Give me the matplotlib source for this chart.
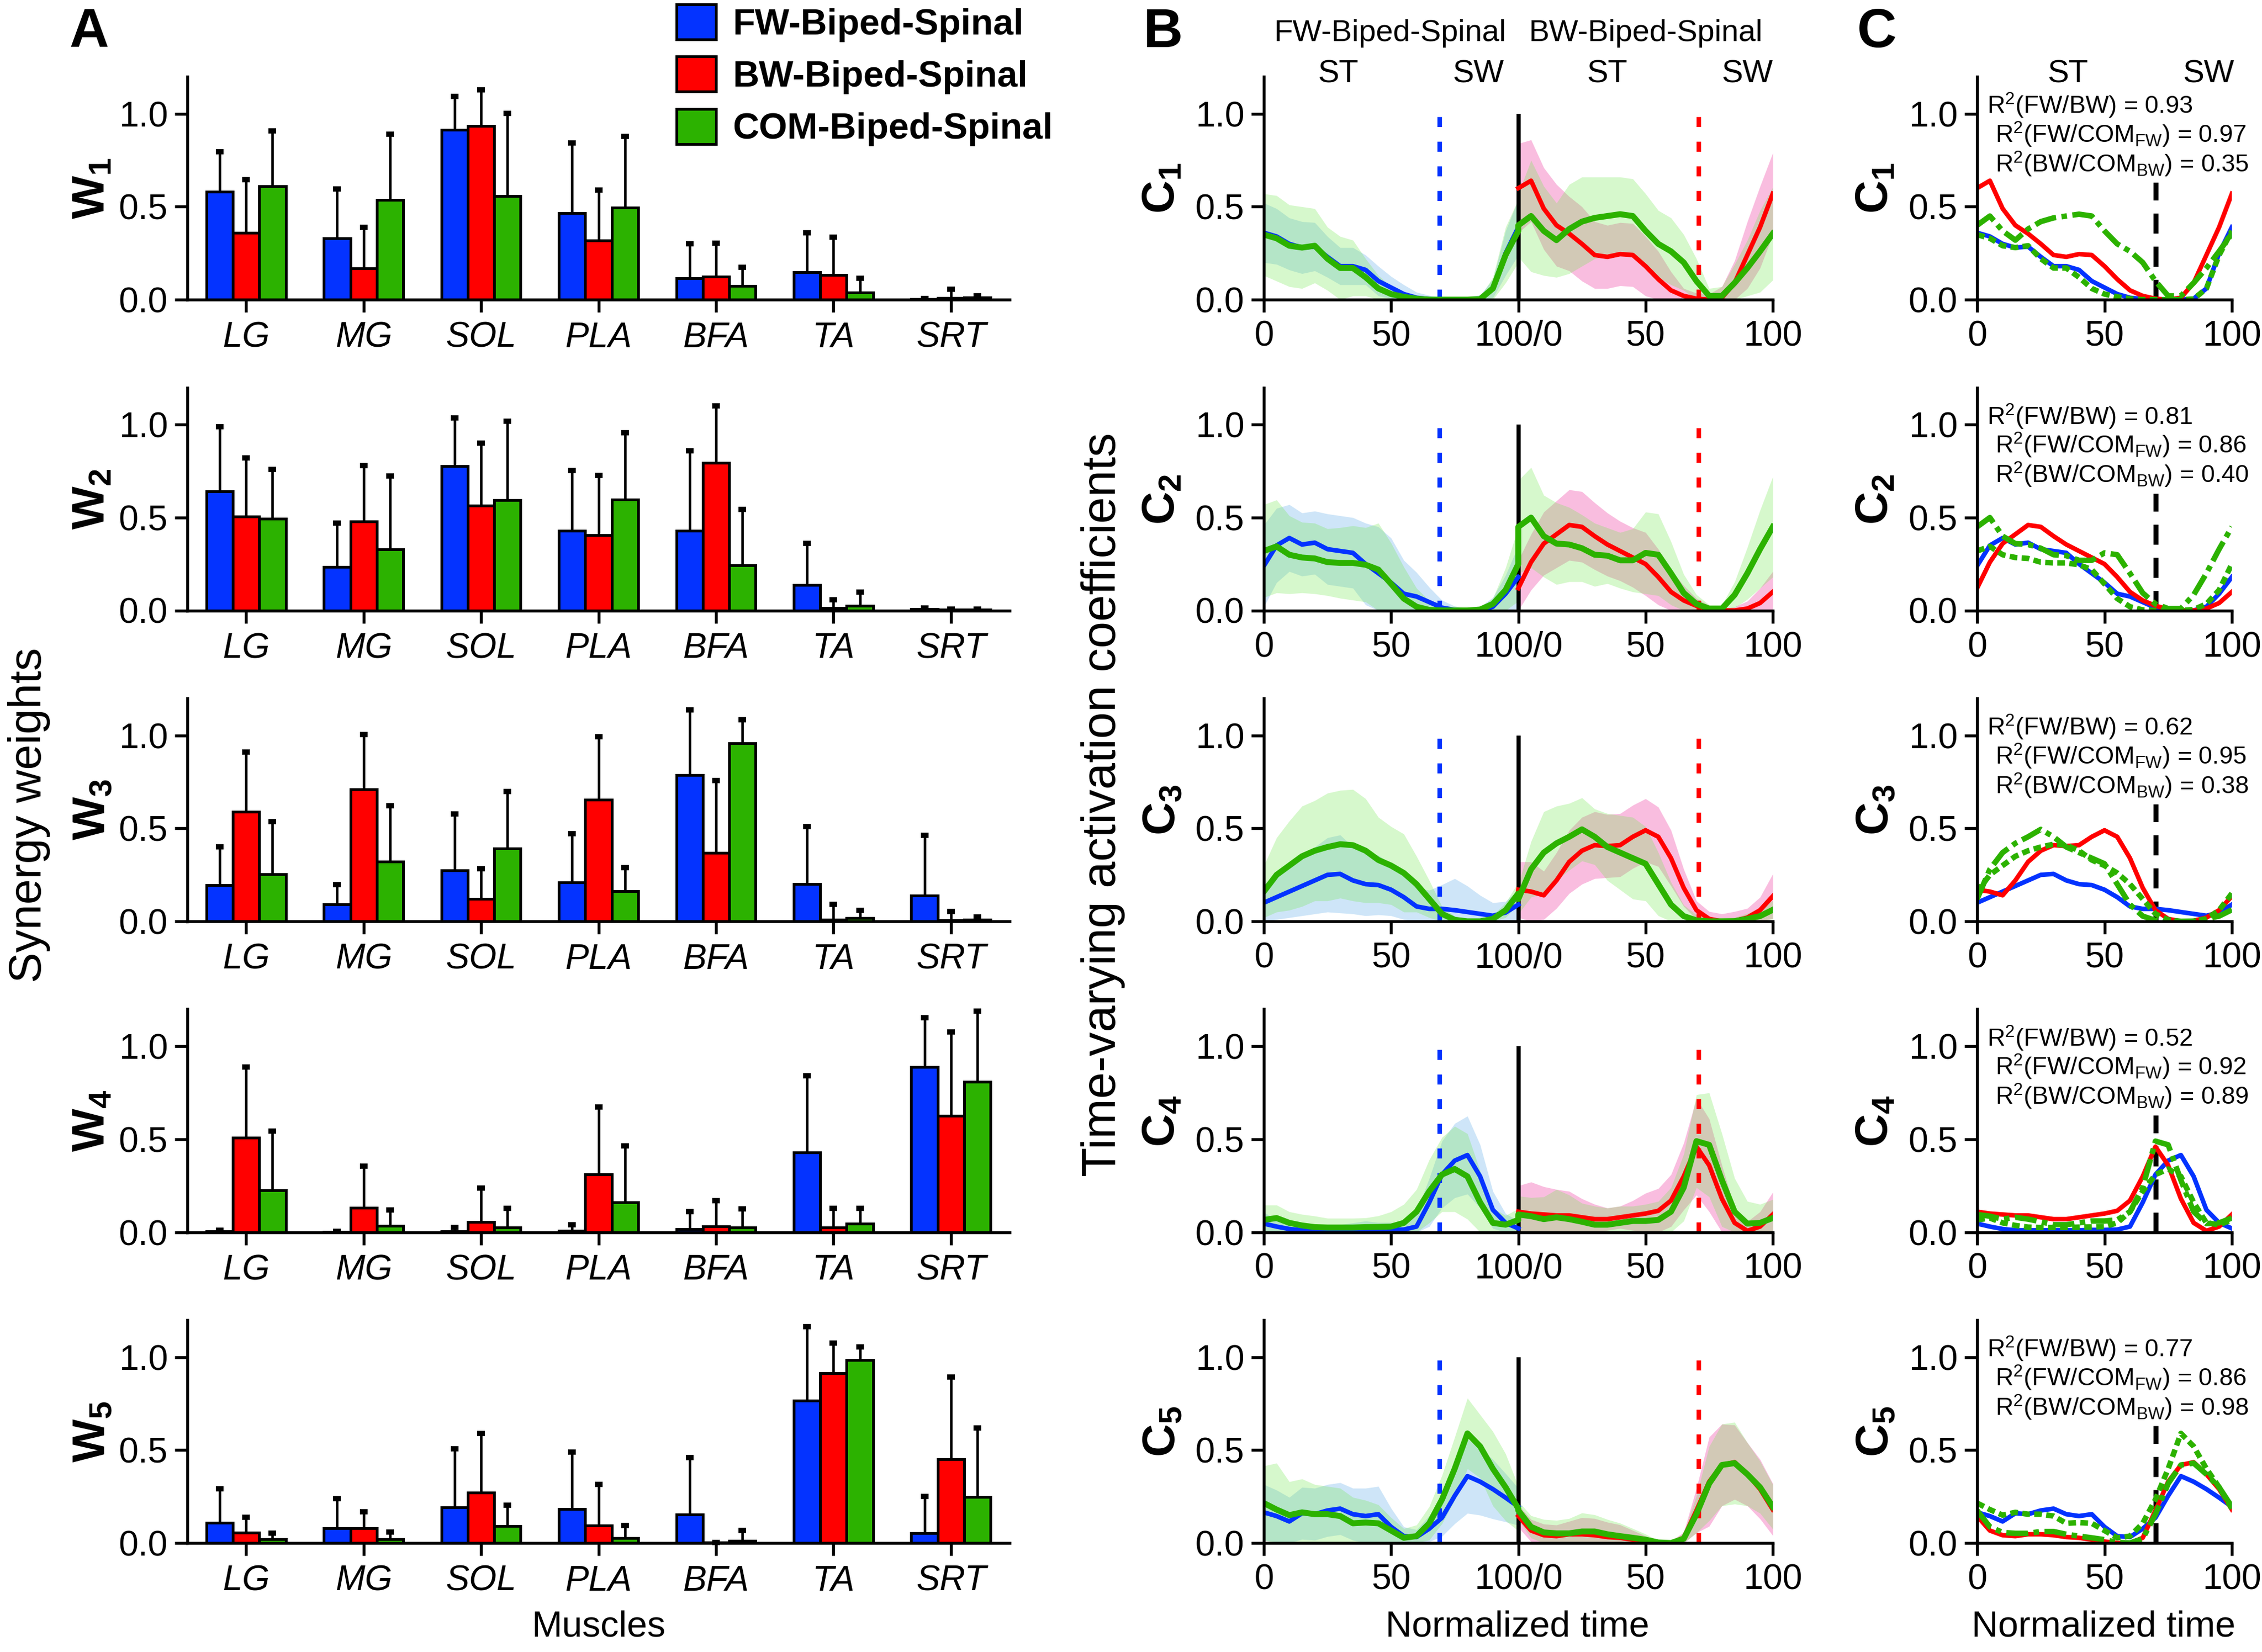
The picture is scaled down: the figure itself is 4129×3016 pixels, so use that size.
import numpy as np
import matplotlib
matplotlib.use('Agg')
import matplotlib.pyplot as plt

plt.rcParams['font.family'] = 'Liberation Sans'
plt.rcParams['mathtext.fontset'] = 'custom'
plt.rcParams['mathtext.rm'] = 'Liberation Sans'
plt.rcParams['mathtext.it'] = 'Liberation Sans:italic'
plt.rcParams['mathtext.bf'] = 'Liberation Sans:bold'


### Panel A data: synergy weights (mean, upper SD) per synergy row
muscles = ['LG', 'MG', 'SOL', 'PLA', 'BFA', 'TA', 'SRT']
conditions = ['FW-Biped-Spinal', 'BW-Biped-Spinal', 'COM-Biped-Spinal']

w_fw = [
	[0.582, 0.331, 0.913, 0.466, 0.115, 0.146, 0.003],
	[0.640, 0.233, 0.776, 0.430, 0.430, 0.137, 0.006],
	[0.195, 0.090, 0.275, 0.208, 0.786, 0.200, 0.140],
	[0.003, 0.002, 0.005, 0.006, 0.016, 0.428, 0.888],
	[0.110, 0.081, 0.192, 0.182, 0.154, 0.767, 0.054],
]
w_fw_sd = [
	[0.213, 0.264, 0.180, 0.377, 0.185, 0.214, 0.004],
	[0.350, 0.237, 0.259, 0.324, 0.430, 0.223, 0.007],
	[0.205, 0.108, 0.303, 0.265, 0.351, 0.310, 0.323],
	[0.007, 0.002, 0.020, 0.034, 0.094, 0.415, 0.265],
	[0.182, 0.157, 0.316, 0.308, 0.307, 0.398, 0.196],
]
w_bw = [
	[0.360, 0.168, 0.935, 0.318, 0.124, 0.134, 0.009],
	[0.505, 0.480, 0.565, 0.405, 0.795, 0.013, 0.003],
	[0.590, 0.712, 0.120, 0.655, 0.370, 0.010, 0.006],
	[0.510, 0.130, 0.054, 0.310, 0.032, 0.026, 0.626],
	[0.056, 0.081, 0.270, 0.094, 0.002, 0.913, 0.451],
]
w_bw_sd = [
	[0.286, 0.222, 0.195, 0.271, 0.179, 0.201, 0.047],
	[0.315, 0.300, 0.335, 0.323, 0.305, 0.045, 0.005],
	[0.320, 0.294, 0.164, 0.339, 0.387, 0.080, 0.048],
	[0.378, 0.225, 0.182, 0.364, 0.138, 0.102, 0.451],
	[0.082, 0.086, 0.320, 0.222, 0.002, 0.162, 0.442],
]
w_com = [
	[0.610, 0.536, 0.556, 0.494, 0.074, 0.037, 0.011],
	[0.495, 0.330, 0.594, 0.597, 0.243, 0.026, 0.003],
	[0.255, 0.320, 0.393, 0.163, 0.958, 0.019, 0.010],
	[0.227, 0.035, 0.025, 0.160, 0.026, 0.045, 0.810],
	[0.021, 0.021, 0.090, 0.028, 0.013, 0.986, 0.247],
]
w_com_sd = [
	[0.298, 0.355, 0.447, 0.384, 0.099, 0.078, 0.009],
	[0.265, 0.395, 0.426, 0.361, 0.300, 0.074, 0.003],
	[0.282, 0.303, 0.307, 0.127, 0.128, 0.041, 0.015],
	[0.316, 0.083, 0.103, 0.303, 0.099, 0.083, 0.380],
	[0.032, 0.037, 0.114, 0.066, 0.054, 0.070, 0.372],
]

### Panels B/C data: activation coefficients, % of cycle
time_pct = [0, 5, 10, 15, 20, 25, 30, 35, 40, 45, 50, 55, 60, 65, 70, 75, 80, 85, 90, 95, 100]

fw_mean = [
	[0.36, 0.34, 0.30, 0.28, 0.285, 0.23, 0.18, 0.18, 0.16, 0.10, 0.065, 0.03, 0.01, 0.003, 0.0, 0.0, 0.0, 0.005, 0.06, 0.25, 0.39],
	[0.24, 0.35, 0.39, 0.355, 0.365, 0.33, 0.32, 0.31, 0.25, 0.20, 0.15, 0.09, 0.075, 0.045, 0.015, 0.003, 0.0, 0.0, 0.02, 0.09, 0.18],
	[0.10, 0.13, 0.16, 0.19, 0.22, 0.25, 0.255, 0.22, 0.20, 0.195, 0.17, 0.13, 0.08, 0.067, 0.067, 0.06, 0.05, 0.04, 0.03, 0.047, 0.09],
	[0.046, 0.03, 0.017, 0.01, 0.01, 0.01, 0.01, 0.01, 0.01, 0.012, 0.012, 0.014, 0.03, 0.16, 0.31, 0.385, 0.415, 0.30, 0.12, 0.05, 0.02],
	[0.165, 0.145, 0.116, 0.16, 0.155, 0.175, 0.185, 0.155, 0.145, 0.155, 0.087, 0.037, 0.032, 0.077, 0.136, 0.254, 0.36, 0.33, 0.29, 0.244, 0.195],
]
fw_sd = [
	[0.16, 0.15, 0.14, 0.14, 0.13, 0.11, 0.10, 0.10, 0.08, 0.08, 0.06, 0.05, 0.03, 0.02, 0.01, 0.01, 0.015, 0.02, 0.05, 0.12, 0.15],
	[0.22, 0.20, 0.18, 0.17, 0.17, 0.19, 0.19, 0.19, 0.22, 0.25, 0.24, 0.18, 0.13, 0.08, 0.04, 0.02, 0.01, 0.02, 0.05, 0.10, 0.17],
	[0.10, 0.12, 0.14, 0.16, 0.18, 0.20, 0.21, 0.18, 0.17, 0.16, 0.14, 0.12, 0.10, 0.10, 0.13, 0.17, 0.14, 0.10, 0.07, 0.06, 0.08],
	[0.06, 0.04, 0.03, 0.03, 0.03, 0.03, 0.03, 0.04, 0.05, 0.04, 0.04, 0.04, 0.08, 0.13, 0.18, 0.20, 0.21, 0.17, 0.10, 0.05, 0.04],
	[0.15, 0.14, 0.13, 0.14, 0.14, 0.14, 0.14, 0.14, 0.15, 0.15, 0.10, 0.05, 0.04, 0.07, 0.10, 0.15, 0.20, 0.18, 0.16, 0.13, 0.10],
]
bw_mean = [
	[0.60, 0.64, 0.49, 0.40, 0.355, 0.30, 0.24, 0.23, 0.245, 0.24, 0.18, 0.11, 0.05, 0.02, 0.005, 0.0, 0.01, 0.09, 0.24, 0.39, 0.57],
	[0.12, 0.26, 0.36, 0.41, 0.46, 0.45, 0.40, 0.355, 0.32, 0.285, 0.25, 0.18, 0.10, 0.054, 0.025, 0.007, 0.0, 0.0, 0.01, 0.04, 0.10],
	[0.17, 0.16, 0.14, 0.22, 0.32, 0.38, 0.41, 0.405, 0.41, 0.455, 0.49, 0.455, 0.34, 0.18, 0.06, 0.013, 0.0, 0.003, 0.02, 0.06, 0.135],
	[0.11, 0.10, 0.095, 0.09, 0.09, 0.08, 0.07, 0.07, 0.08, 0.09, 0.10, 0.115, 0.17, 0.30, 0.46, 0.36, 0.18, 0.05, 0.007, 0.03, 0.095],
	[0.145, 0.067, 0.042, 0.037, 0.047, 0.047, 0.042, 0.032, 0.028, 0.018, 0.008, 0.0, 0.0, 0.028, 0.175, 0.33, 0.42, 0.435, 0.37, 0.29, 0.18],
]
bw_sd = [
	[0.24, 0.22, 0.22, 0.22, 0.20, 0.20, 0.18, 0.17, 0.17, 0.17, 0.16, 0.15, 0.10, 0.04, 0.03, 0.03, 0.06, 0.12, 0.18, 0.22, 0.22],
	[0.15, 0.15, 0.17, 0.18, 0.19, 0.19, 0.18, 0.17, 0.16, 0.16, 0.17, 0.15, 0.12, 0.08, 0.04, 0.02, 0.01, 0.02, 0.04, 0.08, 0.11],
	[0.15, 0.16, 0.13, 0.15, 0.17, 0.18, 0.18, 0.17, 0.17, 0.17, 0.17, 0.16, 0.15, 0.10, 0.05, 0.04, 0.04, 0.05, 0.05, 0.07, 0.12],
	[0.14, 0.17, 0.15, 0.14, 0.13, 0.10, 0.08, 0.06, 0.06, 0.08, 0.11, 0.12, 0.14, 0.18, 0.26, 0.25, 0.18, 0.08, 0.05, 0.08, 0.12],
	[0.06, 0.06, 0.06, 0.06, 0.07, 0.09, 0.09, 0.08, 0.07, 0.05, 0.03, 0.01, 0.01, 0.03, 0.12, 0.24, 0.22, 0.20, 0.17, 0.16, 0.14],
]
comfw_mean = [
	[0.35, 0.33, 0.29, 0.28, 0.29, 0.22, 0.17, 0.17, 0.12, 0.06, 0.03, 0.015, 0.005, 0.0, 0.0, 0.0, 0.0, 0.003, 0.06, 0.24, 0.37],
	[0.32, 0.345, 0.30, 0.285, 0.28, 0.26, 0.256, 0.256, 0.246, 0.22, 0.143, 0.064, 0.02, 0.003, 0.0, 0.0, 0.0, 0.005, 0.035, 0.11, 0.25],
	[0.16, 0.25, 0.30, 0.35, 0.38, 0.40, 0.415, 0.41, 0.38, 0.33, 0.30, 0.26, 0.20, 0.12, 0.04, 0.008, 0.0, 0.0, 0.013, 0.06, 0.15],
	[0.066, 0.076, 0.05, 0.036, 0.027, 0.025, 0.025, 0.025, 0.027, 0.028, 0.03, 0.05, 0.11, 0.22, 0.31, 0.34, 0.30, 0.16, 0.05, 0.04, 0.066],
	[0.215, 0.18, 0.15, 0.165, 0.155, 0.155, 0.145, 0.106, 0.11, 0.106, 0.067, 0.028, 0.037, 0.106, 0.234, 0.40, 0.59, 0.52, 0.40, 0.30, 0.185],
]
comfw_sd = [
	[0.22, 0.23, 0.22, 0.22, 0.20, 0.17, 0.17, 0.15, 0.10, 0.07, 0.04, 0.02, 0.01, 0.005, 0.005, 0.005, 0.005, 0.01, 0.06, 0.15, 0.17],
	[0.25, 0.25, 0.21, 0.19, 0.19, 0.18, 0.19, 0.20, 0.20, 0.25, 0.22, 0.17, 0.10, 0.05, 0.02, 0.01, 0.01, 0.01, 0.03, 0.12, 0.20],
	[0.14, 0.20, 0.24, 0.27, 0.27, 0.29, 0.29, 0.30, 0.28, 0.23, 0.21, 0.21, 0.15, 0.10, 0.04, 0.02, 0.01, 0.01, 0.02, 0.04, 0.06],
	[0.08, 0.07, 0.06, 0.06, 0.06, 0.05, 0.05, 0.05, 0.05, 0.06, 0.08, 0.10, 0.12, 0.17, 0.20, 0.23, 0.23, 0.17, 0.08, 0.05, 0.06],
	[0.20, 0.25, 0.18, 0.18, 0.16, 0.15, 0.15, 0.14, 0.12, 0.10, 0.07, 0.05, 0.06, 0.09, 0.13, 0.17, 0.19, 0.17, 0.20, 0.18, 0.12],
]
combw_mean = [
	[0.40, 0.45, 0.37, 0.32, 0.38, 0.42, 0.44, 0.45, 0.46, 0.45, 0.37, 0.30, 0.26, 0.20, 0.10, 0.02, 0.02, 0.09, 0.17, 0.26, 0.355],
	[0.45, 0.50, 0.40, 0.36, 0.355, 0.335, 0.30, 0.295, 0.27, 0.27, 0.31, 0.30, 0.20, 0.094, 0.035, 0.01, 0.01, 0.084, 0.20, 0.33, 0.45],
	[0.12, 0.28, 0.37, 0.42, 0.455, 0.495, 0.455, 0.40, 0.37, 0.34, 0.31, 0.20, 0.09, 0.028, 0.005, 0.0, 0.0, 0.001, 0.013, 0.028, 0.062],
	[0.095, 0.086, 0.07, 0.08, 0.07, 0.056, 0.04, 0.04, 0.05, 0.06, 0.06, 0.066, 0.11, 0.24, 0.49, 0.47, 0.28, 0.11, 0.046, 0.05, 0.076],
	[0.175, 0.087, 0.057, 0.052, 0.052, 0.062, 0.062, 0.047, 0.037, 0.028, 0.018, 0.003, 0.0, 0.023, 0.155, 0.32, 0.42, 0.43, 0.37, 0.30, 0.195],
]
combw_sd = [
	[0.17, 0.30, 0.24, 0.20, 0.24, 0.24, 0.22, 0.21, 0.20, 0.20, 0.20, 0.18, 0.18, 0.15, 0.12, 0.04, 0.05, 0.10, 0.15, 0.22, 0.25],
	[0.25, 0.27, 0.22, 0.22, 0.20, 0.18, 0.17, 0.15, 0.15, 0.17, 0.22, 0.22, 0.17, 0.10, 0.05, 0.02, 0.02, 0.07, 0.14, 0.21, 0.27],
	[0.08, 0.15, 0.22, 0.20, 0.18, 0.17, 0.15, 0.18, 0.20, 0.22, 0.20, 0.17, 0.12, 0.06, 0.03, 0.02, 0.02, 0.02, 0.03, 0.04, 0.05],
	[0.10, 0.10, 0.12, 0.15, 0.13, 0.10, 0.10, 0.09, 0.09, 0.08, 0.09, 0.10, 0.13, 0.18, 0.25, 0.28, 0.25, 0.18, 0.12, 0.10, 0.10],
	[0.05, 0.06, 0.07, 0.07, 0.08, 0.10, 0.09, 0.08, 0.07, 0.05, 0.03, 0.01, 0.01, 0.03, 0.10, 0.20, 0.22, 0.22, 0.17, 0.14, 0.12],
]

stance_end_fw = 69
stance_end_bw = 71
stance_end_c = 70

r2_fw_bw = [0.93, 0.81, 0.62, 0.52, 0.77]
r2_fw_com = [0.97, 0.86, 0.95, 0.92, 0.86]
r2_bw_com = [0.35, 0.40, 0.38, 0.89, 0.98]

BLUE = '#0433FF'
RED = '#FF0000'
GREEN = '#2CB200'
BLUE_FILL = '#5FACE8'
GREEN_FILL = '#7AE858'
PINK_FILL = '#EE2698'

TICK_FS = 15.5
R2_FS = 10.8
W_PX, H_PX = 4129, 3016
row_zero_px = [547, 1114.5, 1682, 2249.5, 2817]
AX_H_PX = 407


def ax_rect(left_px, right_px, zero_px):
	return [left_px / W_PX, 1 - zero_px / H_PX, (right_px - left_px) / W_PX, AX_H_PX / H_PX]


def style_axes(ax):
	for s in ['top', 'right']:
		ax.spines[s].set_visible(False)
	for s in ['left', 'bottom']:
		ax.spines[s].set_linewidth(1.3)
	ax.set_ylim(0, 1.2)
	ax.set_yticks([0, 0.5, 1.0])
	ax.set_yticklabels(['0.0', '0.5', '1.0'])
	ax.tick_params(axis='both', length=5.5, width=1.3, labelsize=TICK_FS, direction='out')
	ax.tick_params(axis='y', pad=3)
	ax.tick_params(axis='x', pad=3.5)


def band(mean, sd):
	m = np.array(mean)
	s = np.array(sd)
	return np.clip(m - s, 0, None), m + s


fig = plt.figure(figsize=(W_PX / 300, H_PX / 300), dpi=300)

t = np.array(time_pct)
tt = np.concatenate([t, t + 100])
xm = np.arange(len(muscles))
bar_w = 0.225
legend_handles = []

for k in range(5):
	z = row_zero_px[k]
	yc = 1 - (z - AX_H_PX / 2) / H_PX

	### A: bars
	ax = fig.add_axes(ax_rect(342, 1843, z))
	style_axes(ax)
	series = [(w_fw[k], w_fw_sd[k], BLUE), (w_bw[k], w_bw_sd[k], RED), (w_com[k], w_com_sd[k], GREEN)]
	for i, (vals, errs, col) in enumerate(series):
		xpos = xm + (i - 1) * bar_w
		vals = np.array(vals)
		tops = vals + np.array(errs)
		b = ax.bar(xpos, vals, bar_w, color=col, edgecolor='black', linewidth=1.2, zorder=2)
		ax.vlines(xpos, vals, tops, color='black', linewidth=1.1, zorder=1.5)
		ax.plot(xpos, tops, ls='none', marker='_', ms=3.5, mew=2.3, color='black', zorder=3, clip_on=False)
		if k == 0:
			legend_handles.append(b)
	ax.set_xlim(-0.5, 6.5)
	ax.set_xticks(xm)
	ax.set_xticklabels(muscles, fontstyle='italic')
	ax.tick_params(axis='x', pad=4)
	fig.text(169 / W_PX, yc, r'$\mathbf{W}_{\mathbf{%d}}$' % (k + 1), rotation=90,
		ha='center', va='center', fontsize=20)

	### B: FW then BW cycle
	ax = fig.add_axes(ax_rect(2307, 3236, z))
	style_axes(ax)
	lo, hi = band(fw_mean[k], fw_sd[k])
	ax.fill_between(t, lo, hi, color=BLUE_FILL, alpha=0.3, lw=0)
	lo, hi = band(bw_mean[k], bw_sd[k])
	ax.fill_between(t + 100, lo, hi, color=PINK_FILL, alpha=0.3, lw=0)
	com_m = comfw_mean[k] + combw_mean[k]
	com_s = comfw_sd[k] + combw_sd[k]
	lo, hi = band(com_m, com_s)
	ax.fill_between(tt, lo, hi, color=GREEN_FILL, alpha=0.3, lw=0)
	ax.vlines(stance_end_fw, 0, 1.0, color=BLUE, linestyle=(0, (2.2, 3.2)), linewidth=2.0)
	ax.vlines(100 + stance_end_bw, 0, 1.0, color=RED, linestyle=(0, (2.2, 3.2)), linewidth=2.0)
	ax.vlines(100, 0, 1.0, color='black', linewidth=1.8)
	ax.plot(t, fw_mean[k], color=BLUE, lw=2.0, solid_joinstyle='round')
	ax.plot(t + 100, bw_mean[k], color=RED, lw=2.0, solid_joinstyle='round')
	ax.plot(tt, com_m, color=GREEN, lw=2.6, solid_joinstyle='round')
	ax.set_xlim(0, 200)
	ax.set_xticks([0, 50, 100, 150, 200])
	ax.set_xticklabels(['0', '50', '100/0', '50', '100'])
	fig.text(2122 / W_PX, yc, r'$\mathbf{C}_{\mathbf{%d}}$' % (k + 1), rotation=90,
		ha='center', va='center', fontsize=20)
	if k == 0:
		ax.text(49.5, 1.392, 'FW-Biped-Spinal', ha='center', va='baseline', fontsize=13.5, clip_on=False)
		ax.text(150, 1.392, 'BW-Biped-Spinal', ha='center', va='baseline', fontsize=13.5, clip_on=False)
		for xx, lab in [(29.3, 'ST'), (84.2, 'SW'), (135, 'ST'), (190, 'SW')]:
			ax.text(xx, 1.168, lab, ha='center', va='baseline', fontsize=14, clip_on=False)

	### C: overlay of both cycles
	ax = fig.add_axes(ax_rect(3609, 4074, z))
	style_axes(ax)
	ax.vlines(stance_end_c, 0, 0.63, color='black', linestyle=(0, (4, 2.6)), linewidth=2.2)
	ax.plot(t, fw_mean[k], color=BLUE, lw=2.0)
	ax.plot(t, bw_mean[k], color=RED, lw=2.0)
	ax.plot(t, comfw_mean[k], color=GREEN, lw=2.4, linestyle=(0, (1.4, 0.8)))
	ax.plot(t, combw_mean[k], color=GREEN, lw=2.4, linestyle=(0, (4, 1.0, 1.0, 1.0)))
	ax.set_xlim(0, 100)
	ax.set_xticks([0, 50, 100])
	ax.text(3.9, 1.0, r'R$^2$(FW/BW) = %.2f' % r2_fw_bw[k], fontsize=R2_FS, va='baseline', ha='left', clip_on=False)
	ax.text(7.1, 0.845, r'R$^2$(FW/COM$_{\mathrm{FW}}$) = %.2f' % r2_fw_com[k], fontsize=R2_FS, va='baseline', ha='left', clip_on=False)
	ax.text(7.1, 0.686, r'R$^2$(BW/COM$_{\mathrm{BW}}$) = %.2f' % r2_bw_com[k], fontsize=R2_FS, va='baseline', ha='left', clip_on=False)
	fig.text(3424 / W_PX, yc, r'$\mathbf{C}_{\mathbf{%d}}$' % (k + 1), rotation=90,
		ha='center', va='center', fontsize=20)
	if k == 0:
		ax.text(35.7, 1.168, 'ST', ha='center', va='baseline', fontsize=14, clip_on=False)
		ax.text(90.8, 1.168, 'SW', ha='center', va='baseline', fontsize=14, clip_on=False)

### labels and legend
fig.text(163 / W_PX, 1 - 86 / H_PX, 'A', fontsize=24, fontweight='bold', ha='center', va='baseline')
fig.text(2122 / W_PX, 1 - 86 / H_PX, 'B', fontsize=24, fontweight='bold', ha='center', va='baseline')
fig.text(3426 / W_PX, 1 - 86 / H_PX, 'C', fontsize=24, fontweight='bold', ha='center', va='baseline')

fig.text(53 / W_PX, 0.5066, 'Synergy weights', rotation=90, ha='center', va='center', fontsize=20)
fig.text(2014 / W_PX, 0.513, 'Time-varying activation coefficients', rotation=90, ha='center', va='center', fontsize=21)
fig.text(1093 / W_PX, 1 - 2970 / H_PX, 'Muscles', ha='center', va='center', fontsize=16)
fig.text(2770 / W_PX, 1 - 2970 / H_PX, 'Normalized time', ha='center', va='center', fontsize=16)
fig.text(3840 / W_PX, 1 - 2970 / H_PX, 'Normalized time', ha='center', va='center', fontsize=16)

fig.legend(legend_handles, conditions, loc='upper left', bbox_to_anchor=(1235 / W_PX, 1 - 8 / H_PX),
	frameon=False, prop={'weight': 'bold', 'size': 16}, handlelength=1.08, handleheight=1.1,
	labelspacing=0.4, handletextpad=0.45, borderpad=0, borderaxespad=0)

plt.savefig('out.png', dpi=300)
plt.close()
